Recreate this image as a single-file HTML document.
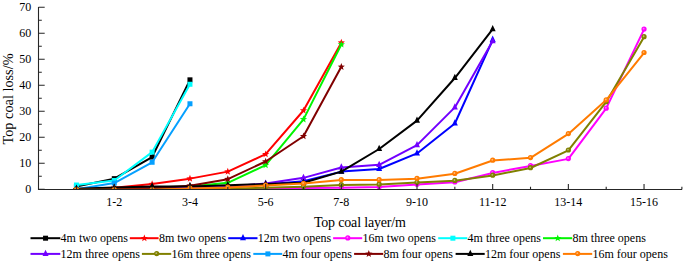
<!DOCTYPE html>
<html><head><meta charset="utf-8"><style>
html,body{margin:0;padding:0;background:#fff;}
body{width:685px;height:263px;overflow:hidden;}
svg{display:block;}
text{font-family:"Liberation Serif",serif;fill:#000;}
</style></head><body>
<svg width="685" height="263" viewBox="0 0 685 263">

<text x="31.3" y="192.70" font-size="12" text-anchor="end">0</text>
<text x="31.3" y="166.70" font-size="12" text-anchor="end">10</text>
<text x="31.3" y="140.70" font-size="12" text-anchor="end">20</text>
<text x="31.3" y="114.70" font-size="12" text-anchor="end">30</text>
<text x="31.3" y="88.70" font-size="12" text-anchor="end">40</text>
<text x="31.3" y="62.70" font-size="12" text-anchor="end">50</text>
<text x="31.3" y="36.70" font-size="12" text-anchor="end">60</text>
<text x="31.3" y="10.70" font-size="12" text-anchor="end">70</text>
<text x="114.28" y="206" font-size="12" text-anchor="middle">1-2</text>
<text x="189.96" y="206" font-size="12" text-anchor="middle">3-4</text>
<text x="265.64" y="206" font-size="12" text-anchor="middle">5-6</text>
<text x="341.32" y="206" font-size="12" text-anchor="middle">7-8</text>
<text x="417.00" y="206" font-size="12" text-anchor="middle">9-10</text>
<text x="492.68" y="206" font-size="12" text-anchor="middle">11-12</text>
<text x="568.36" y="206" font-size="12" text-anchor="middle">13-14</text>
<text x="644.04" y="206" font-size="12" text-anchor="middle">15-16</text>
<text x="313.9" y="227" font-size="14" textLength="92" lengthAdjust="spacing">Top coal layer/m</text>
<text transform="translate(13.3,99) rotate(-90)" font-size="14.3" text-anchor="middle">Top coal loss/%</text>
<defs><clipPath id="pc"><rect x="38" y="0" width="646" height="189.9"/></clipPath></defs><g clip-path="url(#pc)">
<polyline points="76.44,186.44 114.28,178.64 152.12,157.06 189.96,79.84" fill="none" stroke="#000000" stroke-width="2" stroke-linejoin="round"/>
<rect x="73.94" y="183.94" width="5" height="5" fill="#000000"/>
<rect x="111.78" y="176.14" width="5" height="5" fill="#000000"/>
<rect x="149.62" y="154.56" width="5" height="5" fill="#000000"/>
<rect x="187.46" y="77.34" width="5" height="5" fill="#000000"/>
<polyline points="76.44,189.30 114.28,187.74 152.12,184.10 189.96,178.64 227.80,171.62 265.64,154.20 303.48,110.52 341.32,42.66" fill="none" stroke="#FF0000" stroke-width="2" stroke-linejoin="round"/>
<polygon points="76.44,185.50 77.38,188.01 80.05,188.13 77.96,189.79 78.67,192.37 76.44,190.90 74.21,192.37 74.92,189.79 72.83,188.13 75.50,188.01" fill="#FF0000"/>
<polygon points="114.28,183.94 115.22,186.45 117.89,186.57 115.80,188.23 116.51,190.81 114.28,189.34 112.05,190.81 112.76,188.23 110.67,186.57 113.34,186.45" fill="#FF0000"/>
<polygon points="152.12,180.30 153.06,182.81 155.73,182.93 153.64,184.59 154.35,187.17 152.12,185.70 149.89,187.17 150.60,184.59 148.51,182.93 151.18,182.81" fill="#FF0000"/>
<polygon points="189.96,174.84 190.90,177.35 193.57,177.47 191.48,179.13 192.19,181.71 189.96,180.24 187.73,181.71 188.44,179.13 186.35,177.47 189.02,177.35" fill="#FF0000"/>
<polygon points="227.80,167.82 228.74,170.33 231.41,170.45 229.32,172.11 230.03,174.69 227.80,173.22 225.57,174.69 226.28,172.11 224.19,170.45 226.86,170.33" fill="#FF0000"/>
<polygon points="265.64,150.40 266.58,152.91 269.25,153.03 267.16,154.69 267.87,157.27 265.64,155.80 263.41,157.27 264.12,154.69 262.03,153.03 264.70,152.91" fill="#FF0000"/>
<polygon points="303.48,106.72 304.42,109.23 307.09,109.35 305.00,111.01 305.71,113.59 303.48,112.12 301.25,113.59 301.96,111.01 299.87,109.35 302.54,109.23" fill="#FF0000"/>
<polygon points="341.32,38.86 342.26,41.37 344.93,41.49 342.84,43.15 343.55,45.73 341.32,44.26 339.09,45.73 339.80,43.15 337.71,41.49 340.38,41.37" fill="#FF0000"/>
<polyline points="76.44,189.04 114.28,188.78 152.12,188.52 189.96,188.00 227.80,187.22 265.64,184.62 303.48,181.24 341.32,171.62 379.16,169.02 417.00,153.42 454.84,123.52 492.68,39.80" fill="none" stroke="#0000FF" stroke-width="2" stroke-linejoin="round"/>
<path d="M76.44,184.84L79.44,191.14L73.44,191.14Z" fill="#0000FF"/>
<path d="M114.28,184.58L117.28,190.88L111.28,190.88Z" fill="#0000FF"/>
<path d="M152.12,184.32L155.12,190.62L149.12,190.62Z" fill="#0000FF"/>
<path d="M189.96,183.80L192.96,190.10L186.96,190.10Z" fill="#0000FF"/>
<path d="M227.80,183.02L230.80,189.32L224.80,189.32Z" fill="#0000FF"/>
<path d="M265.64,180.42L268.64,186.72L262.64,186.72Z" fill="#0000FF"/>
<path d="M303.48,177.04L306.48,183.34L300.48,183.34Z" fill="#0000FF"/>
<path d="M341.32,167.42L344.32,173.72L338.32,173.72Z" fill="#0000FF"/>
<path d="M379.16,164.82L382.16,171.12L376.16,171.12Z" fill="#0000FF"/>
<path d="M417.00,149.22L420.00,155.52L414.00,155.52Z" fill="#0000FF"/>
<path d="M454.84,119.32L457.84,125.62L451.84,125.62Z" fill="#0000FF"/>
<path d="M492.68,35.60L495.68,41.90L489.68,41.90Z" fill="#0000FF"/>
<polyline points="76.44,189.30 114.28,189.30 152.12,189.30 189.96,189.30 227.80,189.30 265.64,189.04 303.48,188.00 341.32,187.74 379.16,187.09 417.00,184.49 454.84,182.28 492.68,172.92 530.52,165.90 568.36,158.88 606.20,108.44 644.04,29.40" fill="none" stroke="#FF00FF" stroke-width="2" stroke-linejoin="round"/>
<circle cx="76.44" cy="189.00" r="2.6" fill="#FF00FF"/><circle cx="76.04" cy="188.60" r="0.9" fill="#fff" opacity="0.45"/>
<circle cx="114.28" cy="189.00" r="2.6" fill="#FF00FF"/><circle cx="113.88" cy="188.60" r="0.9" fill="#fff" opacity="0.45"/>
<circle cx="152.12" cy="189.00" r="2.6" fill="#FF00FF"/><circle cx="151.72" cy="188.60" r="0.9" fill="#fff" opacity="0.45"/>
<circle cx="189.96" cy="189.00" r="2.6" fill="#FF00FF"/><circle cx="189.56" cy="188.60" r="0.9" fill="#fff" opacity="0.45"/>
<circle cx="227.80" cy="189.00" r="2.6" fill="#FF00FF"/><circle cx="227.40" cy="188.60" r="0.9" fill="#fff" opacity="0.45"/>
<circle cx="265.64" cy="188.74" r="2.6" fill="#FF00FF"/><circle cx="265.24" cy="188.34" r="0.9" fill="#fff" opacity="0.45"/>
<circle cx="303.48" cy="187.70" r="2.6" fill="#FF00FF"/><circle cx="303.08" cy="187.30" r="0.9" fill="#fff" opacity="0.45"/>
<circle cx="341.32" cy="187.44" r="2.6" fill="#FF00FF"/><circle cx="340.92" cy="187.04" r="0.9" fill="#fff" opacity="0.45"/>
<circle cx="379.16" cy="186.79" r="2.6" fill="#FF00FF"/><circle cx="378.76" cy="186.39" r="0.9" fill="#fff" opacity="0.45"/>
<circle cx="417.00" cy="184.19" r="2.6" fill="#FF00FF"/><circle cx="416.60" cy="183.79" r="0.9" fill="#fff" opacity="0.45"/>
<circle cx="454.84" cy="181.98" r="2.6" fill="#FF00FF"/><circle cx="454.44" cy="181.58" r="0.9" fill="#fff" opacity="0.45"/>
<circle cx="492.68" cy="172.62" r="2.6" fill="#FF00FF"/><circle cx="492.28" cy="172.22" r="0.9" fill="#fff" opacity="0.45"/>
<circle cx="530.52" cy="165.60" r="2.6" fill="#FF00FF"/><circle cx="530.12" cy="165.20" r="0.9" fill="#fff" opacity="0.45"/>
<circle cx="568.36" cy="158.58" r="2.6" fill="#FF00FF"/><circle cx="567.96" cy="158.18" r="0.9" fill="#fff" opacity="0.45"/>
<circle cx="606.20" cy="108.14" r="2.6" fill="#FF00FF"/><circle cx="605.80" cy="107.74" r="0.9" fill="#fff" opacity="0.45"/>
<circle cx="644.04" cy="29.10" r="2.6" fill="#FF00FF"/><circle cx="643.64" cy="28.70" r="0.9" fill="#fff" opacity="0.45"/>
<polyline points="76.44,185.01 114.28,180.46 152.12,152.12 189.96,84.26" fill="none" stroke="#00FFFF" stroke-width="2" stroke-linejoin="round"/>
<rect x="73.94" y="182.51" width="5" height="5" fill="#00FFFF"/>
<rect x="111.78" y="177.96" width="5" height="5" fill="#00FFFF"/>
<rect x="149.62" y="149.62" width="5" height="5" fill="#00FFFF"/>
<rect x="187.46" y="81.76" width="5" height="5" fill="#00FFFF"/>
<polyline points="76.44,189.30 114.28,183.06 152.12,162.26 189.96,103.76" fill="none" stroke="#05A0FF" stroke-width="2" stroke-linejoin="round"/>
<rect x="73.94" y="186.80" width="5" height="5" fill="#05A0FF"/>
<rect x="111.78" y="180.56" width="5" height="5" fill="#05A0FF"/>
<rect x="149.62" y="159.76" width="5" height="5" fill="#05A0FF"/>
<rect x="187.46" y="101.26" width="5" height="5" fill="#05A0FF"/>
<polyline points="76.44,189.30 114.28,188.78 152.12,188.00 189.96,186.44 227.80,182.80 265.64,165.12 303.48,119.36 341.32,44.48" fill="none" stroke="#00F500" stroke-width="2" stroke-linejoin="round"/>
<polygon points="76.44,185.50 77.38,188.01 80.05,188.13 77.96,189.79 78.67,192.37 76.44,190.90 74.21,192.37 74.92,189.79 72.83,188.13 75.50,188.01" fill="#00F500"/>
<polygon points="114.28,184.98 115.22,187.49 117.89,187.61 115.80,189.27 116.51,191.85 114.28,190.38 112.05,191.85 112.76,189.27 110.67,187.61 113.34,187.49" fill="#00F500"/>
<polygon points="152.12,184.20 153.06,186.71 155.73,186.83 153.64,188.49 154.35,191.07 152.12,189.60 149.89,191.07 150.60,188.49 148.51,186.83 151.18,186.71" fill="#00F500"/>
<polygon points="189.96,182.64 190.90,185.15 193.57,185.27 191.48,186.93 192.19,189.51 189.96,188.04 187.73,189.51 188.44,186.93 186.35,185.27 189.02,185.15" fill="#00F500"/>
<polygon points="227.80,179.00 228.74,181.51 231.41,181.63 229.32,183.29 230.03,185.87 227.80,184.40 225.57,185.87 226.28,183.29 224.19,181.63 226.86,181.51" fill="#00F500"/>
<polygon points="265.64,161.32 266.58,163.83 269.25,163.95 267.16,165.61 267.87,168.19 265.64,166.72 263.41,168.19 264.12,165.61 262.03,163.95 264.70,163.83" fill="#00F500"/>
<polygon points="303.48,115.56 304.42,118.07 307.09,118.19 305.00,119.85 305.71,122.43 303.48,120.96 301.25,122.43 301.96,119.85 299.87,118.19 302.54,118.07" fill="#00F500"/>
<polygon points="341.32,40.68 342.26,43.19 344.93,43.31 342.84,44.97 343.55,47.55 341.32,46.08 339.09,47.55 339.80,44.97 337.71,43.31 340.38,43.19" fill="#00F500"/>
<polyline points="76.44,189.04 114.28,188.78 152.12,188.26 189.96,187.48 227.80,186.70 265.64,183.58 303.48,177.86 341.32,167.46 379.16,164.86 417.00,145.10 454.84,107.40 492.68,41.10" fill="none" stroke="#7200FF" stroke-width="2" stroke-linejoin="round"/>
<path d="M76.44,184.84L79.44,191.14L73.44,191.14Z" fill="#7200FF"/>
<path d="M114.28,184.58L117.28,190.88L111.28,190.88Z" fill="#7200FF"/>
<path d="M152.12,184.06L155.12,190.36L149.12,190.36Z" fill="#7200FF"/>
<path d="M189.96,183.28L192.96,189.58L186.96,189.58Z" fill="#7200FF"/>
<path d="M227.80,182.50L230.80,188.80L224.80,188.80Z" fill="#7200FF"/>
<path d="M265.64,179.38L268.64,185.68L262.64,185.68Z" fill="#7200FF"/>
<path d="M303.48,173.66L306.48,179.96L300.48,179.96Z" fill="#7200FF"/>
<path d="M341.32,163.26L344.32,169.56L338.32,169.56Z" fill="#7200FF"/>
<path d="M379.16,160.66L382.16,166.96L376.16,166.96Z" fill="#7200FF"/>
<path d="M417.00,140.90L420.00,147.20L414.00,147.20Z" fill="#7200FF"/>
<path d="M454.84,103.20L457.84,109.50L451.84,109.50Z" fill="#7200FF"/>
<path d="M492.68,36.90L495.68,43.20L489.68,43.20Z" fill="#7200FF"/>
<polyline points="76.44,189.30 114.28,189.30 152.12,189.30 189.96,189.04 227.80,188.78 265.64,187.74 303.48,186.70 341.32,185.01 379.16,184.49 417.00,182.54 454.84,180.72 492.68,175.52 530.52,167.98 568.36,150.30 606.20,101.94 644.04,36.94" fill="none" stroke="#808000" stroke-width="2" stroke-linejoin="round"/>
<circle cx="76.44" cy="189.00" r="2.6" fill="#808000"/><circle cx="76.04" cy="188.60" r="0.9" fill="#fff" opacity="0.45"/>
<circle cx="114.28" cy="189.00" r="2.6" fill="#808000"/><circle cx="113.88" cy="188.60" r="0.9" fill="#fff" opacity="0.45"/>
<circle cx="152.12" cy="189.00" r="2.6" fill="#808000"/><circle cx="151.72" cy="188.60" r="0.9" fill="#fff" opacity="0.45"/>
<circle cx="189.96" cy="188.74" r="2.6" fill="#808000"/><circle cx="189.56" cy="188.34" r="0.9" fill="#fff" opacity="0.45"/>
<circle cx="227.80" cy="188.48" r="2.6" fill="#808000"/><circle cx="227.40" cy="188.08" r="0.9" fill="#fff" opacity="0.45"/>
<circle cx="265.64" cy="187.44" r="2.6" fill="#808000"/><circle cx="265.24" cy="187.04" r="0.9" fill="#fff" opacity="0.45"/>
<circle cx="303.48" cy="186.40" r="2.6" fill="#808000"/><circle cx="303.08" cy="186.00" r="0.9" fill="#fff" opacity="0.45"/>
<circle cx="341.32" cy="184.71" r="2.6" fill="#808000"/><circle cx="340.92" cy="184.31" r="0.9" fill="#fff" opacity="0.45"/>
<circle cx="379.16" cy="184.19" r="2.6" fill="#808000"/><circle cx="378.76" cy="183.79" r="0.9" fill="#fff" opacity="0.45"/>
<circle cx="417.00" cy="182.24" r="2.6" fill="#808000"/><circle cx="416.60" cy="181.84" r="0.9" fill="#fff" opacity="0.45"/>
<circle cx="454.84" cy="180.42" r="2.6" fill="#808000"/><circle cx="454.44" cy="180.02" r="0.9" fill="#fff" opacity="0.45"/>
<circle cx="492.68" cy="175.22" r="2.6" fill="#808000"/><circle cx="492.28" cy="174.82" r="0.9" fill="#fff" opacity="0.45"/>
<circle cx="530.52" cy="167.68" r="2.6" fill="#808000"/><circle cx="530.12" cy="167.28" r="0.9" fill="#fff" opacity="0.45"/>
<circle cx="568.36" cy="150.00" r="2.6" fill="#808000"/><circle cx="567.96" cy="149.60" r="0.9" fill="#fff" opacity="0.45"/>
<circle cx="606.20" cy="101.64" r="2.6" fill="#808000"/><circle cx="605.80" cy="101.24" r="0.9" fill="#fff" opacity="0.45"/>
<circle cx="644.04" cy="36.64" r="2.6" fill="#808000"/><circle cx="643.64" cy="36.24" r="0.9" fill="#fff" opacity="0.45"/>
<polyline points="76.44,189.30 114.28,189.04 152.12,188.00 189.96,185.66 227.80,179.16 265.64,161.48 303.48,136.26 341.32,66.84" fill="none" stroke="#800000" stroke-width="2" stroke-linejoin="round"/>
<polygon points="76.44,185.50 77.38,188.01 80.05,188.13 77.96,189.79 78.67,192.37 76.44,190.90 74.21,192.37 74.92,189.79 72.83,188.13 75.50,188.01" fill="#800000"/>
<polygon points="114.28,185.24 115.22,187.75 117.89,187.87 115.80,189.53 116.51,192.11 114.28,190.64 112.05,192.11 112.76,189.53 110.67,187.87 113.34,187.75" fill="#800000"/>
<polygon points="152.12,184.20 153.06,186.71 155.73,186.83 153.64,188.49 154.35,191.07 152.12,189.60 149.89,191.07 150.60,188.49 148.51,186.83 151.18,186.71" fill="#800000"/>
<polygon points="189.96,181.86 190.90,184.37 193.57,184.49 191.48,186.15 192.19,188.73 189.96,187.26 187.73,188.73 188.44,186.15 186.35,184.49 189.02,184.37" fill="#800000"/>
<polygon points="227.80,175.36 228.74,177.87 231.41,177.99 229.32,179.65 230.03,182.23 227.80,180.76 225.57,182.23 226.28,179.65 224.19,177.99 226.86,177.87" fill="#800000"/>
<polygon points="265.64,157.68 266.58,160.19 269.25,160.31 267.16,161.97 267.87,164.55 265.64,163.08 263.41,164.55 264.12,161.97 262.03,160.31 264.70,160.19" fill="#800000"/>
<polygon points="303.48,132.46 304.42,134.97 307.09,135.09 305.00,136.75 305.71,139.33 303.48,137.86 301.25,139.33 301.96,136.75 299.87,135.09 302.54,134.97" fill="#800000"/>
<polygon points="341.32,63.04 342.26,65.55 344.93,65.67 342.84,67.33 343.55,69.91 341.32,68.44 339.09,69.91 339.80,67.33 337.71,65.67 340.38,65.55" fill="#800000"/>
<polyline points="76.44,188.78 114.28,187.61 152.12,186.44 189.96,186.44 227.80,185.14 265.64,184.10 303.48,182.80 341.32,171.62 379.16,149.00 417.00,120.66 454.84,78.02 492.68,29.14" fill="none" stroke="#000000" stroke-width="2" stroke-linejoin="round"/>
<path d="M76.44,184.58L79.44,190.88L73.44,190.88Z" fill="#000000"/>
<path d="M114.28,183.41L117.28,189.71L111.28,189.71Z" fill="#000000"/>
<path d="M152.12,182.24L155.12,188.54L149.12,188.54Z" fill="#000000"/>
<path d="M189.96,182.24L192.96,188.54L186.96,188.54Z" fill="#000000"/>
<path d="M227.80,180.94L230.80,187.24L224.80,187.24Z" fill="#000000"/>
<path d="M265.64,179.90L268.64,186.20L262.64,186.20Z" fill="#000000"/>
<path d="M303.48,178.60L306.48,184.90L300.48,184.90Z" fill="#000000"/>
<path d="M341.32,167.42L344.32,173.72L338.32,173.72Z" fill="#000000"/>
<path d="M379.16,144.80L382.16,151.10L376.16,151.10Z" fill="#000000"/>
<path d="M417.00,116.46L420.00,122.76L414.00,122.76Z" fill="#000000"/>
<path d="M454.84,73.82L457.84,80.12L451.84,80.12Z" fill="#000000"/>
<path d="M492.68,24.94L495.68,31.24L489.68,31.24Z" fill="#000000"/>
<polyline points="76.44,189.82 114.28,189.82 152.12,189.82 189.96,188.52 227.80,187.48 265.64,185.40 303.48,183.58 341.32,179.94 379.16,179.94 417.00,178.64 454.84,173.70 492.68,160.44 530.52,157.84 568.36,133.92 606.20,100.12 644.04,52.80" fill="none" stroke="#FF7B00" stroke-width="2" stroke-linejoin="round"/>
<circle cx="76.44" cy="189.52" r="2.6" fill="#FF7B00"/><circle cx="76.04" cy="189.12" r="0.9" fill="#fff" opacity="0.45"/>
<circle cx="114.28" cy="189.52" r="2.6" fill="#FF7B00"/><circle cx="113.88" cy="189.12" r="0.9" fill="#fff" opacity="0.45"/>
<circle cx="152.12" cy="189.52" r="2.6" fill="#FF7B00"/><circle cx="151.72" cy="189.12" r="0.9" fill="#fff" opacity="0.45"/>
<circle cx="189.96" cy="188.22" r="2.6" fill="#FF7B00"/><circle cx="189.56" cy="187.82" r="0.9" fill="#fff" opacity="0.45"/>
<circle cx="227.80" cy="187.18" r="2.6" fill="#FF7B00"/><circle cx="227.40" cy="186.78" r="0.9" fill="#fff" opacity="0.45"/>
<circle cx="265.64" cy="185.10" r="2.6" fill="#FF7B00"/><circle cx="265.24" cy="184.70" r="0.9" fill="#fff" opacity="0.45"/>
<circle cx="303.48" cy="183.28" r="2.6" fill="#FF7B00"/><circle cx="303.08" cy="182.88" r="0.9" fill="#fff" opacity="0.45"/>
<circle cx="341.32" cy="179.64" r="2.6" fill="#FF7B00"/><circle cx="340.92" cy="179.24" r="0.9" fill="#fff" opacity="0.45"/>
<circle cx="379.16" cy="179.64" r="2.6" fill="#FF7B00"/><circle cx="378.76" cy="179.24" r="0.9" fill="#fff" opacity="0.45"/>
<circle cx="417.00" cy="178.34" r="2.6" fill="#FF7B00"/><circle cx="416.60" cy="177.94" r="0.9" fill="#fff" opacity="0.45"/>
<circle cx="454.84" cy="173.40" r="2.6" fill="#FF7B00"/><circle cx="454.44" cy="173.00" r="0.9" fill="#fff" opacity="0.45"/>
<circle cx="492.68" cy="160.14" r="2.6" fill="#FF7B00"/><circle cx="492.28" cy="159.74" r="0.9" fill="#fff" opacity="0.45"/>
<circle cx="530.52" cy="157.54" r="2.6" fill="#FF7B00"/><circle cx="530.12" cy="157.14" r="0.9" fill="#fff" opacity="0.45"/>
<circle cx="568.36" cy="133.62" r="2.6" fill="#FF7B00"/><circle cx="567.96" cy="133.22" r="0.9" fill="#fff" opacity="0.45"/>
<circle cx="606.20" cy="99.82" r="2.6" fill="#FF7B00"/><circle cx="605.80" cy="99.42" r="0.9" fill="#fff" opacity="0.45"/>
<circle cx="644.04" cy="52.50" r="2.6" fill="#FF7B00"/><circle cx="643.64" cy="52.10" r="0.9" fill="#fff" opacity="0.45"/>
</g>
<path d="M38.5,7 V189.5 H682" fill="none" stroke="#262626" stroke-width="1.1"/>
<path d="M38.5,189.30h6.2 M38.5,176.30h3.3 M38.5,163.30h6.2 M38.5,150.30h3.3 M38.5,137.30h6.2 M38.5,124.30h3.3 M38.5,111.30h6.2 M38.5,98.30h3.3 M38.5,85.30h6.2 M38.5,72.30h3.3 M38.5,59.30h6.2 M38.5,46.30h3.3 M38.5,33.30h6.2 M38.5,20.30h3.3 M38.5,7.30h6.2 M76.44,189.5v-2.8 M114.28,189.5v-5.5 M152.12,189.5v-2.8 M189.96,189.5v-5.5 M227.80,189.5v-2.8 M265.64,189.5v-5.5 M303.48,189.5v-2.8 M341.32,189.5v-5.5 M379.16,189.5v-2.8 M417.00,189.5v-5.5 M454.84,189.5v-2.8 M492.68,189.5v-5.5 M530.52,189.5v-2.8 M568.36,189.5v-5.5 M606.20,189.5v-2.8 M644.04,189.5v-5.5 M681.88,189.5v-2.8" fill="none" stroke="#262626" stroke-width="1.1"/>
<line x1="30.5" y1="238.2" x2="60.3" y2="238.2" stroke="#000000" stroke-width="2"/>
<rect x="43.05" y="235.70" width="5" height="5" fill="#000000"/>
<text x="60.6" y="242.4" font-size="12">4m two opens</text>
<line x1="129.8" y1="238.2" x2="158.6" y2="238.2" stroke="#FF0000" stroke-width="2"/>
<polygon points="144.35,234.40 145.29,236.91 147.96,237.03 145.87,238.69 146.58,241.27 144.35,239.80 142.12,241.27 142.83,238.69 140.74,237.03 143.41,236.91" fill="#FF0000"/>
<text x="158.9" y="242.4" font-size="12">8m two opens</text>
<line x1="228.2" y1="238.2" x2="257.5" y2="238.2" stroke="#0000FF" stroke-width="2"/>
<path d="M243.00,234.00L246.00,240.30L240.00,240.30Z" fill="#0000FF"/>
<text x="257.8" y="242.4" font-size="12">12m two opens</text>
<line x1="333.1" y1="238.2" x2="362.2" y2="238.2" stroke="#FF00FF" stroke-width="2"/>
<circle cx="347.80" cy="237.90" r="2.6" fill="#FF00FF"/><circle cx="347.40" cy="237.50" r="0.9" fill="#fff" opacity="0.45"/>
<text x="362.5" y="242.4" font-size="12">16m two opens</text>
<line x1="438.2" y1="238.2" x2="467.3" y2="238.2" stroke="#00FFFF" stroke-width="2"/>
<rect x="450.40" y="235.70" width="5" height="5" fill="#00FFFF"/>
<text x="467.6" y="242.4" font-size="12">4m three opens</text>
<line x1="543.0" y1="238.2" x2="572.2" y2="238.2" stroke="#00F500" stroke-width="2"/>
<polygon points="557.75,234.40 558.69,236.91 561.36,237.03 559.27,238.69 559.98,241.27 557.75,239.80 555.52,241.27 556.23,238.69 554.14,237.03 556.81,236.91" fill="#00F500"/>
<text x="572.5" y="242.4" font-size="12">8m three opens</text>
<line x1="30.5" y1="253.9" x2="60.3" y2="253.9" stroke="#7200FF" stroke-width="2"/>
<path d="M45.55,249.70L48.55,256.00L42.55,256.00Z" fill="#7200FF"/>
<text x="60.6" y="258.1" font-size="12">12m three opens</text>
<line x1="141.9" y1="253.9" x2="171.2" y2="253.9" stroke="#808000" stroke-width="2"/>
<circle cx="156.70" cy="253.60" r="2.6" fill="#808000"/><circle cx="156.30" cy="253.20" r="0.9" fill="#fff" opacity="0.45"/>
<text x="171.5" y="258.1" font-size="12">16m three opens</text>
<line x1="253.3" y1="253.9" x2="282.2" y2="253.9" stroke="#05A0FF" stroke-width="2"/>
<rect x="265.40" y="251.40" width="5" height="5" fill="#05A0FF"/>
<text x="282.5" y="258.1" font-size="12">4m four opens</text>
<line x1="354.1" y1="253.9" x2="383.2" y2="253.9" stroke="#800000" stroke-width="2"/>
<polygon points="368.80,250.10 369.74,252.61 372.41,252.73 370.32,254.39 371.03,256.97 368.80,255.50 366.57,256.97 367.28,254.39 365.19,252.73 367.86,252.61" fill="#800000"/>
<text x="383.5" y="258.1" font-size="12">8m four opens</text>
<line x1="455.6" y1="253.9" x2="484.7" y2="253.9" stroke="#000000" stroke-width="2"/>
<path d="M470.30,249.70L473.30,256.00L467.30,256.00Z" fill="#000000"/>
<text x="485.0" y="258.1" font-size="12">12m four opens</text>
<line x1="562.9" y1="253.9" x2="592.2" y2="253.9" stroke="#FF7B00" stroke-width="2"/>
<circle cx="577.70" cy="253.60" r="2.6" fill="#FF7B00"/><circle cx="577.30" cy="253.20" r="0.9" fill="#fff" opacity="0.45"/>
<text x="592.5" y="258.1" font-size="12">16m four opens</text>
</svg></body></html>
